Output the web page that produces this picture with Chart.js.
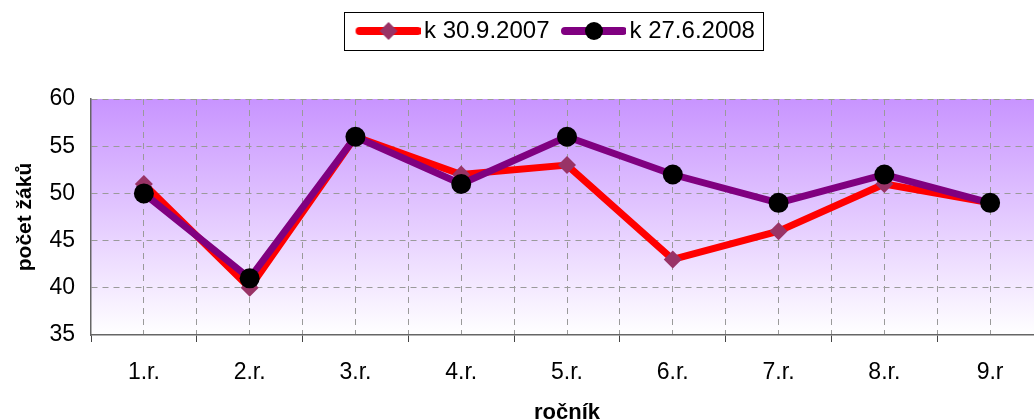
<!DOCTYPE html>
<html>
<head>
<meta charset="utf-8">
<script src="https://cdn.jsdelivr.net/npm/chart.js@4"></script>
<style>
  html, body { margin: 0; padding: 0; background: #fff; overflow: hidden; }
  #wrap { width: 1060px; height: 419px; }
</style>
</head>
<body>
<div id="wrap"><canvas id="chart" width="1060" height="419"></canvas></div>
<script>
// ročníky (categories)
const classLabels = ['1.r.', '2.r.', '3.r.', '4.r.', '5.r.', '6.r.', '7.r.', '8.r.', '9.r'];
// počet žáků k datu
const pupils2007 = [51, 40, 56, 52, 53, 43, 46, 51, 49];
const pupils2008 = [50, 41, 56, 51, 56, 52, 49, 52, 49];
const yTicks = [35, 40, 45, 50, 55, 60];

const FONT = '"Liberation Sans", Arial, sans-serif';
const gridGray = '#9a9a9a';
const LEGEND_SHIFT = 32;

// legend symbol: thick line with a marker in the middle
function legendSymbol(lineColor, drawMarker) {
  const c = document.createElement('canvas');
  c.width = 75; c.height = 22;
  const g = c.getContext('2d');
  g.strokeStyle = lineColor;
  g.lineWidth = 8;
  g.lineCap = 'round';
  g.beginPath();
  g.moveTo(14, 11);
  g.lineTo(72, 11);
  g.stroke();
  drawMarker(g, 43, 11);
  return c;
}
const sym2007 = legendSymbol('#ff0000', (g, x, y) => {
  g.fillStyle = '#993366';
  g.beginPath();
  g.moveTo(x, y - 9); g.lineTo(x + 9, y); g.lineTo(x, y + 9); g.lineTo(x - 9, y);
  g.closePath(); g.fill();
});
const sym2008 = legendSymbol('#800080', (g, x, y) => {
  g.fillStyle = '#000';
  g.beginPath(); g.arc(x, y, 9, 0, Math.PI * 2); g.fill();
});

const plotBackground = {
  id: 'plotBackground',
  beforeDraw(chart) {
    const { ctx, chartArea: a } = chart;
    const grad = ctx.createLinearGradient(0, a.top, 0, a.bottom);
    grad.addColorStop(0, '#c894ff');
    grad.addColorStop(1, '#ffffff');
    ctx.save();
    ctx.fillStyle = grad;
    ctx.fillRect(a.left, a.top, a.right - a.left, a.bottom - a.top);
    ctx.restore();
  }
};

const legendFrame = {
  id: 'legendFrame',
  beforeInit(chart) {
    const fit = chart.legend.fit;
    chart.legend.fit = function () {
      fit.call(this);
      this.height += 46;
    };
  },
  afterLayout(chart) {
    chart.legend.left += LEGEND_SHIFT;
    chart.legend.right += LEGEND_SHIFT;
  },
  afterDraw(chart) {
    const boxes = chart.legend.legendHitBoxes;
    if (!boxes || !boxes.length) return;
    const left = Math.min(...boxes.map(b => b.left)) - 10;
    const right = Math.max(...boxes.map(b => b.left + b.width)) + 8;
    const ctx = chart.ctx;
    ctx.save();
    ctx.strokeStyle = '#000';
    ctx.lineWidth = 1;
    ctx.strokeRect(Math.round(left) + 0.5, 12.5, Math.round(right - left), 38);
    ctx.restore();
  }
};

new Chart(document.getElementById('chart'), {
  type: 'line',
  data: {
    datasets: [{
      label: 'k 30.9.2007',
      data: pupils2007.map((v, i) => ({ x: i + 1, y: v })),
      borderColor: '#ff0000',
      borderWidth: 7,
      pointStyle: 'rectRot',
      pointRadius: 9,
      pointHoverRadius: 9,
      pointBackgroundColor: '#993366',
      pointBorderWidth: 0,
      order: 2
    }, {
      label: 'k 27.6.2008',
      data: pupils2008.map((v, i) => ({ x: i + 1, y: v })),
      borderColor: '#800080',
      borderWidth: 7,
      pointStyle: 'circle',
      pointRadius: 10,
      pointHoverRadius: 10,
      pointBackgroundColor: '#000000',
      pointBorderWidth: 0,
      order: 1
    }]
  },
  options: {
    responsive: false,
    animation: false,
    layout: { padding: { top: 9, right: 15, left: 0, bottom: 0 } },
    elements: { line: { tension: 0 } },
    plugins: {
      tooltip: { enabled: false },
      legend: {
        display: true,
        labels: {
          font: { family: FONT, size: 24 },
          color: '#000',
          usePointStyle: true,
          pointStyleWidth: 58,
          padding: 10,
          sort: (a, b) => a.datasetIndex - b.datasetIndex,
          generateLabels(chart) {
            return chart.data.datasets.map((ds, i) => ({
              text: ds.label,
              datasetIndex: i,
              pointStyle: i === 0 ? sym2007 : sym2008,
              fillStyle: ds.borderColor,
              strokeStyle: ds.borderColor,
              lineWidth: 0,
              hidden: false,
              fontColor: '#000'
            }));
          }
        }
      }
    },
    scales: {
      x: {
        type: 'linear',
        min: 0.5,
        max: 9.5,
        afterBuildTicks(scale) {
          const t = [];
          for (let v = 0.5; v <= 9.5; v += 0.5) t.push({ value: v });
          scale.ticks = t;
        },
        afterFit(scale) { scale.height = 84; },
        ticks: {
          autoSkip: false,
          maxRotation: 0,
          padding: 17,
          font: { family: FONT, size: 23 },
          color: '#000',
          callback: v => Number.isInteger(v) ? classLabels[v - 1] : ''
        },
        grid: {
          color: ctx => ctx.tick && ctx.tick.value === 0.5 ? 'rgba(0,0,0,0)' : gridGray,
          lineWidth: 1,
          drawTicks: true,
          tickLength: 7,
          tickColor: ctx => ctx.tick && !Number.isInteger(ctx.tick.value) ? '#444' : 'rgba(0,0,0,0)',
          tickBorderDash: []
        },
        border: { display: true, color: '#666', width: 1.5, dash: [6, 5] },
        title: {
          display: true,
          text: 'ročník',
          font: { family: FONT, size: 22, weight: 'bold', lineHeight: 1 },
          color: '#000',
          padding: { top: 0, bottom: -5 }
        }
      },
      y: {
        min: 35,
        max: 60,
        afterBuildTicks(scale) {
          scale.ticks = yTicks.map(v => ({ value: v }));
        },
        afterFit(scale) { scale.width = 91; },
        ticks: {
          padding: 16,
          font: { family: FONT, size: 23 },
          color: '#000'
        },
        grid: {
          color: ctx => ctx.tick && ctx.tick.value === 35 ? 'rgba(0,0,0,0)' : gridGray,
          lineWidth: 1,
          drawTicks: false
        },
        border: { display: true, color: '#666', width: 1.5, dash: [6, 5] },
        title: {
          display: true,
          text: 'počet žáků',
          font: { family: FONT, size: 21, weight: 'bold' },
          color: '#000',
          padding: { top: 13, bottom: 4 }
        }
      }
    }
  },
  plugins: [plotBackground, legendFrame]
});
</script>
</body>
</html>
